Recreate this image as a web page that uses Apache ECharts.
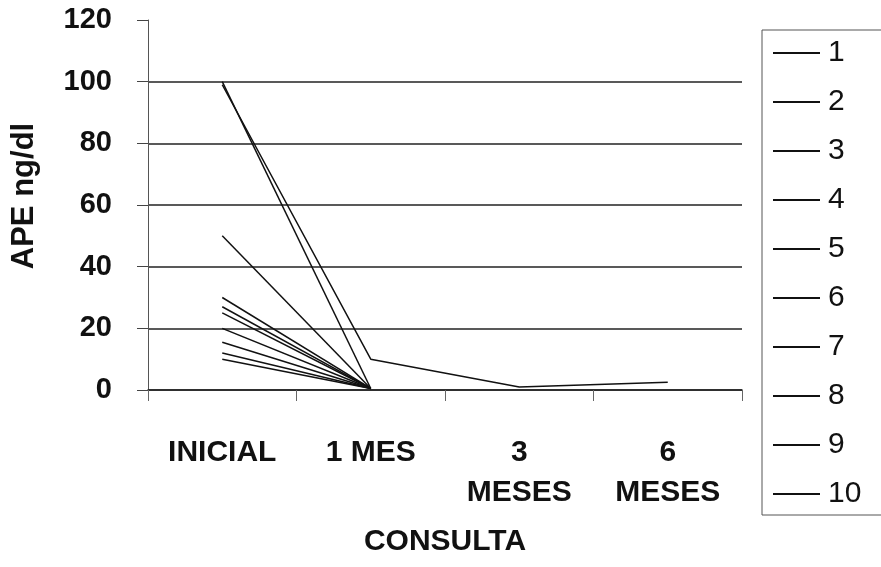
<!DOCTYPE html>
<html>
<head>
<meta charset="utf-8">
<script src="https://cdn.jsdelivr.net/npm/echarts@6/dist/echarts.min.js"></script>
<style>
  html, body { margin: 0; padding: 0; background: #fff; }
  #chart { width: 881px; height: 567px; }
</style>
</head>
<body>
<div id="chart"></div>
<script>
// Visit labels (x axis)
const categories = ['INICIAL', '1 MES', '3\nMESES', '6\nMESES'];

// Y axis scale
const yMin = 0;
const yMax = 120;
const yStep = 20;

// APE (ng/dl) per patient at each visit
const p1  = [100, 0.5, null, null];
const p2  = [99, 10, 1, 2.5];
const p3  = [50, 0.5, null, null];
const p4  = [30, 0.5, null, null];
const p5  = [27, 0.5, null, null];
const p6  = [25, 0.5, null, null];
const p7  = [20, 0.5, null, null];
const p8  = [15.5, 0.5, null, null];
const p9  = [12, 0.5, null, null];
const p10 = [10, 0.5, null, null];

const seriesNames = ['1', '2', '3', '4', '5', '6', '7', '8', '9', '10'];
const seriesData = [p1, p2, p3, p4, p5, p6, p7, p8, p9, p10];

const FONT = '"Liberation Sans", Arial, sans-serif';
const INK = '#111';

const chart = echarts.init(document.getElementById('chart'), null, { renderer: 'canvas' });

chart.setOption({
  backgroundColor: '#fff',
  animation: false,
  textStyle: { fontFamily: FONT, color: INK },
  grid: { left: 148, right: 139, top: 20, bottom: 177, containLabel: false },
  legend: {
    orient: 'vertical',
    left: 762,
    top: 30,
    data: seriesNames,
    icon: 'rect',
    itemWidth: 47,
    itemHeight: 2,
    itemGap: 19,
    padding: [8, 25, 6, 11],
    borderColor: '#555',
    borderWidth: 1,
    textStyle: { fontFamily: FONT, fontSize: 30, color: INK, lineHeight: 30, padding: [0, 0, 0, 3] }
  },
  xAxis: {
    type: 'category',
    data: categories,
    boundaryGap: true,
    name: 'CONSULTA',
    nameLocation: 'middle',
    nameGap: 137,
    nameTextStyle: { fontFamily: FONT, fontSize: 30, fontWeight: 'bold', color: INK },
    axisLine: { lineStyle: { color: '#222', width: 1.5 } },
    axisTick: { show: true, length: 11, lineStyle: { color: '#666', width: 1 } },
    axisLabel: {
      fontFamily: FONT, fontSize: 30, fontWeight: 'bold', color: INK,
      margin: 43, lineHeight: 40, interval: 0
    },
    splitLine: { show: false }
  },
  yAxis: {
    type: 'value',
    min: yMin,
    max: yMax,
    interval: yStep,
    name: 'APE ng/dl',
    nameLocation: 'middle',
    nameGap: 108,
    nameTextStyle: { fontFamily: FONT, fontSize: 31, fontWeight: 'bold', color: INK, padding: [0, 0, 0, 18] },
    axisLine: { show: true, lineStyle: { color: '#555', width: 1 } },
    axisTick: { show: true, length: 11, lineStyle: { color: '#444', width: 1 } },
    axisLabel: { fontFamily: FONT, fontSize: 29, fontWeight: 'bold', color: INK, margin: 36 },
    splitLine: { show: true, showMaxLine: false, lineStyle: { color: '#222', width: 1.5 } }
  },
  series: seriesNames.map((name, i) => ({
    name: name,
    type: 'line',
    data: seriesData[i],
    symbol: 'none',
    connectNulls: false,
    color: INK,
    lineStyle: { color: INK, width: 1.5 }
  }))
});
</script>
</body>
</html>
